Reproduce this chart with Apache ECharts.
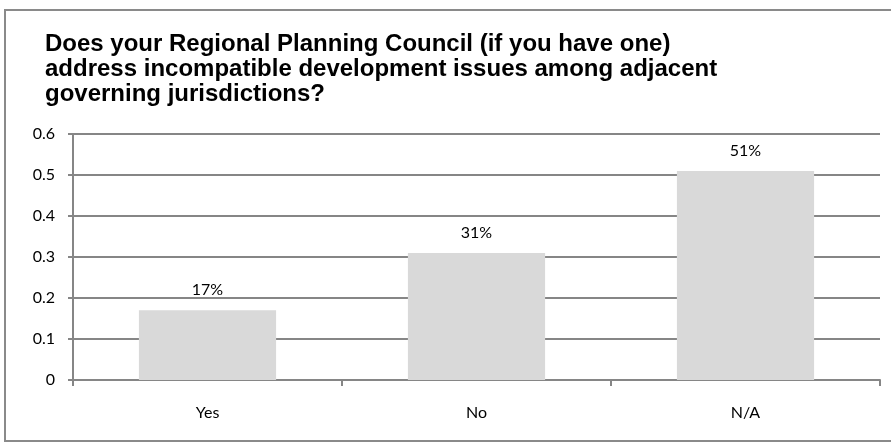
<!DOCTYPE html>
<html>
<head>
<meta charset="utf-8">
<style>
  html, body { margin: 0; padding: 0; background: #fff; }
  #chart { width: 891px; height: 443px; }
</style>
<script src="https://cdn.jsdelivr.net/npm/echarts@6/dist/echarts.min.js"></script>
</head>
<body>
<div id="chart"></div>
<script>
// Survey answers and their shares
const categories = ['Yes', 'No', 'N/A'];
const shares = [0.17, 0.31, 0.51];
const yTicks = { min: 0, max: 0.6, interval: 0.1 };
const titleLines = [
  'Does your Regional Planning Council (if you have one)',
  'address incompatible development issues among adjacent',
  'governing jurisdictions?'
];

const chart = echarts.init(document.getElementById('chart'), null, { renderer: 'canvas' });
const gridGray = '#868686';
const labelFont = 'Lato, "Open Sans", sans-serif';

chart.setOption({
  animation: false,
  backgroundColor: '#fff',
  title: {
    text: titleLines.join('\n'),
    left: 40,
    top: 27,
    textStyle: {
      fontFamily: 'Arial, "Liberation Sans", sans-serif',
      fontWeight: 'bold',
      fontSize: 24,
      lineHeight: 25,
      color: '#000'
    }
  },
  graphic: [{
    type: 'rect',
    shape: { x: 5, y: 10, width: 920, height: 431 },
    style: { fill: 'none', stroke: '#8a8a8a', lineWidth: 2 },
    silent: true
  }],
  grid: { left: 73, right: 11, top: 134, bottom: 63 },
  xAxis: {
    type: 'category',
    data: categories,
    axisLine: { lineStyle: { color: gridGray, width: 2 } },
    axisTick: { show: true, length: 6, lineStyle: { color: gridGray, width: 2 } },
    axisLabel: { margin: 25, fontFamily: labelFont, fontSize: 16, color: '#000' }
  },
  yAxis: {
    type: 'value',
    min: yTicks.min,
    max: yTicks.max,
    interval: yTicks.interval,
    axisLine: { show: true, lineStyle: { color: gridGray, width: 2 } },
    axisTick: { show: true, length: 5, lineStyle: { color: gridGray, width: 2 } },
    axisLabel: { margin: 18, fontFamily: labelFont, fontSize: 16, color: '#000' },
    splitLine: { show: true, lineStyle: { color: gridGray, width: 2 } }
  },
  series: [{
    type: 'bar',
    data: shares,
    barCategoryGap: '49%',
    z: 3,
    itemStyle: { color: '#d9d9d9' },
    label: {
      show: true,
      position: 'top',
      distance: 12,
      fontFamily: labelFont,
      fontSize: 16,
      color: '#000',
      formatter: p => Math.round(p.value * 100) + '%'
    }
  }]
});
</script>
</body>
</html>
